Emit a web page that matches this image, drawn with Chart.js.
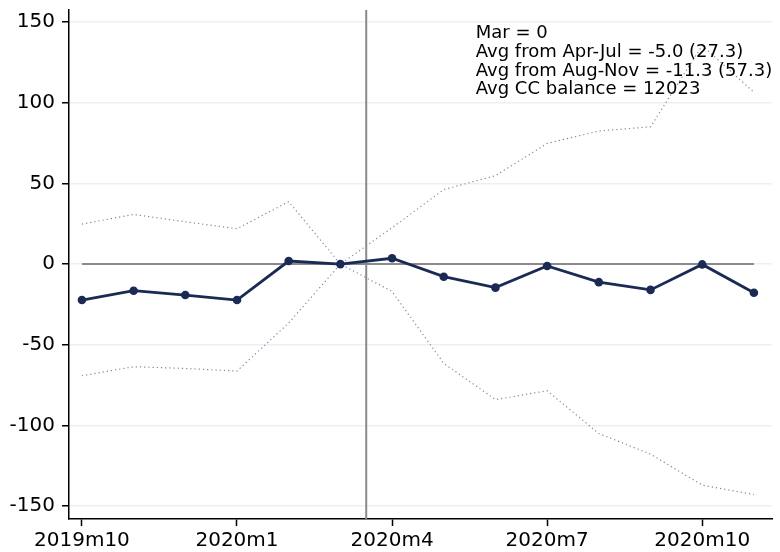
<!DOCTYPE html>
<html>
<head>
<meta charset="utf-8">
<script src="https://cdn.jsdelivr.net/npm/chart.js@4/dist/chart.umd.min.js"></script>
<style>
  html, body { margin: 0; padding: 0; background: #ffffff; }
  #wrap { width: 780px; height: 552px; position: relative; }
</style>
</head>
<body>
<div id="wrap"><canvas id="c" width="780" height="552"></canvas></div>
<script>
const months = ['2019m10','2019m11','2019m12','2020m1','2020m2','2020m3','2020m4','2020m5','2020m6','2020m7','2020m8','2020m9','2020m10','2020m11'];
const estimate = [-22.3,-16.5,-19.2,-22.3,1.9,0,3.6,-7.8,-14.6,-1.2,-11.2,-16.0,-0.2,-17.8];
const upperCI = [24.8,30.8,26.2,21.9,38.7,0,22.5,46.2,54.8,74.8,82.5,85.1,135.5,106.5];
const lowerCI = [-69.2,-63.6,-64.7,-66.3,-36.5,0,-17.0,-61.5,-84.0,-78.5,-105.0,-117.8,-137.0,-142.8];
const xTickMonths = ['2019m10','2020m1','2020m4','2020m7','2020m10'];
const yTicks = [-150,-100,-50,0,50,100,150];
const eventPosition = 5.5; // between 2020m3 and 2020m4
const yMin = -158, yMax = 157.5;
const xMin = -0.25, xMax = 13.35;
const noteLines = ['Mar = 0','Avg from Apr-Jul = -5.0 (27.3)','Avg from Aug-Nov = -11.3 (57.3)','Avg CC balance = 12023'];
const noteAnchorX = 7.62;

const toXY = arr => arr.map((v, i) => ({x: i, y: v}));

const notePlugin = {
  id: 'note',
  afterDraw(chart) {
    const ctx = chart.ctx;
    const xs = chart.scales.x;
    const x = xs.getPixelForValue(noteAnchorX);
    ctx.save();
    ctx.font = '18px "DejaVu Sans"';
    ctx.fillStyle = '#000000';
    ctx.textAlign = 'left';
    ctx.textBaseline = 'alphabetic';
    noteLines.forEach((t, i) => {
      ctx.fillText(t, x, 38.3 + i * 18.7);
    });
    ctx.restore();
  }
};

const FONT = 'DejaVu Sans';

new Chart(document.getElementById('c'), {
  type: 'line',
  data: {
    datasets: [
      {
        data: [{x: 0, y: 0}, {x: months.length - 1, y: 0}],
        borderColor: '#8a8a8a', borderWidth: 2, pointRadius: 0, order: 5
      },
      {
        data: [{x: eventPosition, y: yMin}, {x: eventPosition, y: yMax}],
        borderColor: '#8a8a8a', borderWidth: 2, pointRadius: 0, order: 4
      },
      {
        data: toXY(upperCI),
        borderColor: '#7e86a6', borderWidth: 1.2, borderDash: [1.2, 3], pointRadius: 0, order: 3
      },
      {
        data: toXY(lowerCI),
        borderColor: '#7e86a6', borderWidth: 1.2, borderDash: [1.2, 3], pointRadius: 0, order: 2
      },
      {
        data: toXY(estimate),
        borderColor: '#1b2a55', backgroundColor: '#1b2a55', borderWidth: 2.8,
        pointRadius: 4.3, pointBackgroundColor: '#1b2a55', pointBorderWidth: 0, order: 1
      }
    ]
  },
  options: {
    responsive: false,
    animation: false,
    events: [],
    layout: { padding: { top: 10, right: 8, left: 0, bottom: 0 } },
    plugins: { legend: { display: false }, tooltip: { enabled: false } },
    scales: {
      x: {
        type: 'linear',
        min: xMin, max: xMax,
        afterBuildTicks(scale) {
          scale.ticks = xTickMonths.map(m => ({value: months.indexOf(m)}));
        },
        afterFit(scale) { scale.height = 33; scale.paddingLeft = 0; scale.paddingRight = 0; },
        ticks: {
          autoSkip: false, maxRotation: 0, padding: 3,
          color: '#000000', font: { family: FONT, size: 20 },
          callback: v => months[v]
        },
        grid: { drawOnChartArea: false, drawTicks: true, tickLength: 7, tickColor: '#000000', tickWidth: 1.5 },
        border: { display: true, color: '#000000', width: 1.5 }
      },
      y: {
        type: 'linear',
        min: yMin, max: yMax,
        afterBuildTicks(scale) {
          scale.ticks = yTicks.map(v => ({value: v}));
        },
        afterFit(scale) { scale.width = 69; scale.paddingTop = 0; scale.paddingBottom = 0; },
        ticks: {
          autoSkip: false, padding: 7,
          color: '#000000', font: { family: FONT, size: 20 },
          callback: v => String(v)
        },
        grid: { color: '#eaf1f3', lineWidth: 1.5, drawTicks: true, tickLength: 7, tickColor: '#000000', tickWidth: 1.5 },
        border: { display: true, color: '#000000', width: 1.5 }
      }
    }
  },
  plugins: [notePlugin]
});
</script>
</body>
</html>
